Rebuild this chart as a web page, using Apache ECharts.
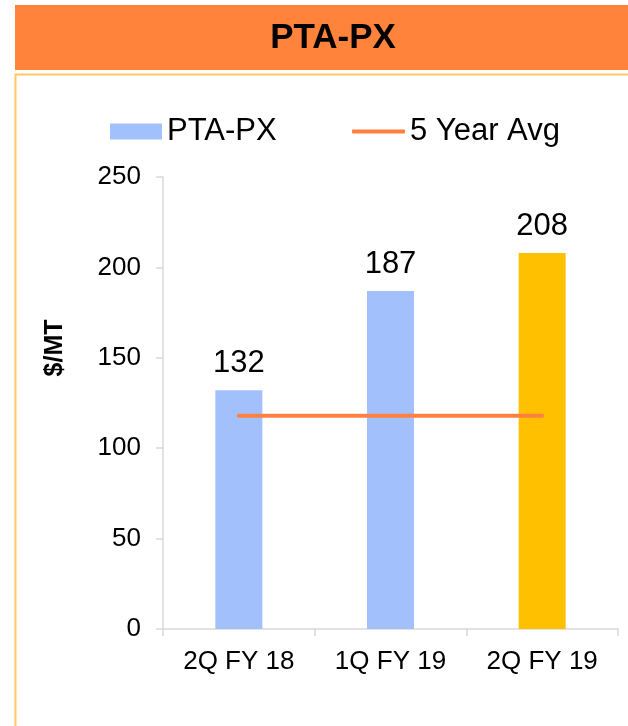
<!DOCTYPE html>
<html>
<head>
<meta charset="utf-8">
<script src="https://cdn.jsdelivr.net/npm/echarts@6/dist/echarts.min.js"></script>
<style>
  html, body { margin: 0; padding: 0; background: #fff; }
  #main { width: 628px; height: 726px; }
</style>
</head>
<body>
<div id="main"></div>
<script>
const categories = ['2Q FY 18', '1Q FY 19', '2Q FY 19'];
const ptaPx = [132, 187, 208];
const fiveYearAvg = [118, 118, 118];
const yTicks = { min: 0, max: 250, interval: 50 };

const blue = '#A2C1FC';
const yellow = '#FFC000';
const orange = '#FF8040';
const axisGrey = '#D9D9D9';
const font = 'Arial, "Liberation Sans", sans-serif';

const chart = echarts.init(document.getElementById('main'));

const legendText = { fontSize: 31, color: '#000', fontFamily: font };

chart.setOption({
  animation: false,
  textStyle: { fontFamily: font },
  graphic: [
    // orange header
    { type: 'rect', shape: { x: 15, y: 5, width: 613, height: 65 }, style: { fill: '#FF833B' }, z: 0 },
    { type: 'text', x: 333, y: 38, style: { text: 'PTA-PX', fill: '#000', font: 'bold 35px ' + font, align: 'center', verticalAlign: 'middle' } },
    // frame of the chart box
    { type: 'polyline', shape: { points: [[15.5, 726], [15.5, 74.5], [628, 74.5]] }, style: { stroke: '#FFC864', lineWidth: 2, fill: null } },
    // y axis title
    { type: 'text', x: 55, y: 348, rotation: Math.PI / 2, style: { text: '$/MT', fill: '#000', font: 'bold 25px ' + font, align: 'center', verticalAlign: 'middle' } }
  ],
  legend: [
    {
      top: 116,
      left: 110,
      padding: 0,
      itemWidth: 52,
      itemHeight: 16,
      icon: 'rect',
      textStyle: legendText,
      data: ['PTA-PX']
    },
    {
      top: 116,
      left: 352,
      padding: 0,
      itemWidth: 53,
      itemHeight: 4,
      icon: 'roundRect',
      textStyle: legendText,
      data: ['5 Year Avg']
    }
  ],
  grid: { left: 163, right: 10, top: 177, bottom: 97 },
  xAxis: {
    type: 'category',
    data: categories,
    axisLine: { lineStyle: { color: axisGrey, width: 1.5 } },
    axisTick: { show: true, length: 7, lineStyle: { color: axisGrey, width: 1.5 } },
    axisLabel: { fontSize: 26, color: '#000', margin: 20, fontFamily: font }
  },
  yAxis: {
    type: 'value',
    min: yTicks.min,
    max: yTicks.max,
    interval: yTicks.interval,
    axisLine: { show: true, lineStyle: { color: axisGrey, width: 1.5 } },
    axisTick: { show: true, length: 7, lineStyle: { color: axisGrey, width: 1.5 } },
    splitLine: { show: false },
    axisLabel: { fontSize: 26, color: '#000', margin: 22, fontFamily: font }
  },
  series: [
    {
      name: 'PTA-PX',
      type: 'bar',
      barWidth: 47,
      itemStyle: { color: blue },
      data: ptaPx.map((v, i) => i === ptaPx.length - 1 ? { value: v, itemStyle: { color: yellow } } : v),
      label: { show: true, position: 'top', distance: 11, fontSize: 31, color: '#000', fontFamily: font }
    },
    {
      name: '5 Year Avg',
      type: 'line',
      data: fiveYearAvg,
      symbol: 'none',
      itemStyle: { color: orange },
      lineStyle: { color: orange, width: 4, cap: 'round' },
      z: 3
    }
  ]
});
</script>
</body>
</html>
